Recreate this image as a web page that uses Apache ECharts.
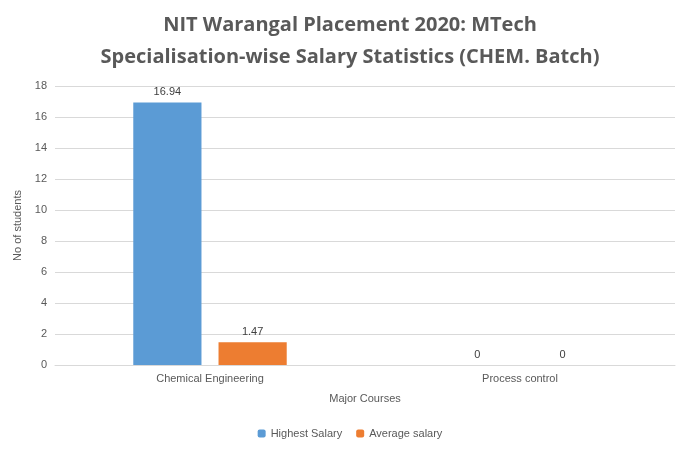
<!DOCTYPE html>
<html>
<head>
<meta charset="utf-8">
<script src="https://cdn.jsdelivr.net/npm/echarts@6/dist/echarts.min.js"></script>
<style>html,body{margin:0;padding:0;background:#fff}#main{width:700px;height:450px}</style>
</head>
<body>
<div id="main"></div>
<script>
// 数据
var categories = ['Chemical Engineering', 'Process control'];
var highestSalary = [16.94, 0];
var averageSalary = [1.47, 0];

var myChart = echarts.init(document.getElementById('main'));

var labelStyle = { show: true, position: 'top', color: '#404040', fontSize: 11, fontFamily: 'Liberation Sans' };

var option = {
    animation: false,
    title: {
        text: 'NIT Warangal Placement 2020: MTech\nSpecialisation-wise Salary Statistics (CHEM. Batch)',
        left: 'center',
        top: 4,
        textStyle: { fontSize: 20, fontWeight: 'bold', color: '#595959', fontFamily: 'Open Sans', lineHeight: 32 }
    },
    legend: {
        bottom: 6,
        itemWidth: 8,
        itemHeight: 8,
        itemGap: 14,
        textStyle: { fontSize: 11, color: '#595959', fontFamily: 'Liberation Sans' },
        data: ['Highest Salary', 'Average salary']
    },
    grid: { left: 55, right: 25, top: 86, bottom: 85 },
    xAxis: {
        type: 'category',
        data: categories,
        name: 'Major Courses',
        nameLocation: 'middle',
        nameGap: 28,
        nameTextStyle: { fontSize: 11, color: '#595959', fontFamily: 'Liberation Sans' },
        axisLine: { lineStyle: { color: '#d9d9d9' } },
        axisTick: { show: false },
        axisLabel: { fontSize: 11, color: '#595959', fontFamily: 'Liberation Sans' }
    },
    yAxis: {
        type: 'value',
        min: 0,
        max: 18,
        interval: 2,
        name: 'No of students',
        nameLocation: 'middle',
        nameGap: 25,
        nameTextStyle: { fontSize: 11, color: '#595959', fontFamily: 'Liberation Sans' },
        axisLine: { show: false },
        axisTick: { show: false },
        axisLabel: { fontSize: 11, color: '#595959', fontFamily: 'Liberation Sans' },
        splitLine: { lineStyle: { color: '#d9d9d9' } }
    },
    series: [
        {
            name: 'Highest Salary',
            type: 'bar',
            data: highestSalary,
            barWidth: '22%',
            barGap: '25%',
            itemStyle: { color: '#5b9bd5' },
            label: labelStyle
        },
        {
            name: 'Average salary',
            type: 'bar',
            data: averageSalary,
            barWidth: '22%',
            itemStyle: { color: '#ed7d31' },
            label: labelStyle
        }
    ]
};

myChart.setOption(option);
</script>
</body>
</html>
